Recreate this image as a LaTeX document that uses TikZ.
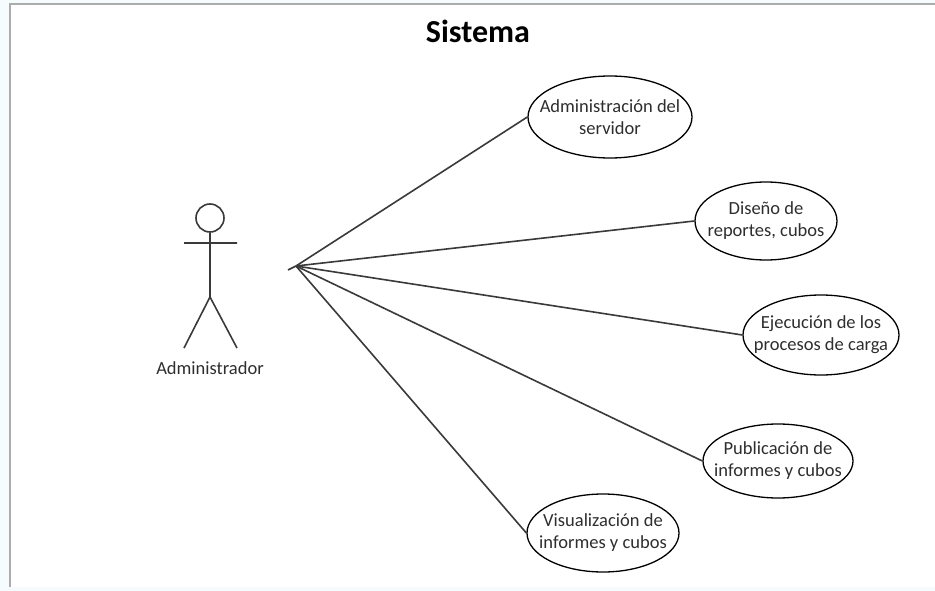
\documentclass[tikz,border=0pt]{standalone}
\usepackage{fontspec}
\setmainfont{Carlito}
\usetikzlibrary{shapes.geometric}
\definecolor{ink}{HTML}{3A3A3A}
\tikzset{
  usecase/.style={draw=black,line width=1.3pt,ellipse,inner sep=0pt,minimum width=#1},
  casetext/.style={align=center,font=\fontsize{18.5}{22}\selectfont,text=ink!80!black,inner sep=0pt},
  wire/.style={draw=ink,line width=1.6pt},
  limb/.style={draw=ink,line width=1.6pt}
}
\begin{document}
\begin{tikzpicture}[x=1pt,y=-1pt]
\useasboundingbox (0,0) rectangle (935,591);
\fill[white!94!cyan!60!white] (0,0) rectangle (935,591);
\fill[white] (10,4) rectangle (935,587);
\draw[line width=1.5pt,gray!65] (10,587) -- (10,4) -- (935,4);
\node[font=\fontsize{32}{36}\selectfont\bfseries] (title) at (478,31) {Sistema};
\node[usecase=164pt,minimum height=82pt] (a) at (610,117) {};
\node[casetext] (at) at (a) {Administración del\\servidor};
\node[usecase=142pt,minimum height=78pt] (b) at (766,221) {};
\node[casetext] (bt) at (b) {Diseño de\\reportes, cubos};
\node[usecase=156pt,minimum height=80pt] (c) at (821,335) {};
\node[casetext] (ct) at (c) {Ejecución de los\\procesos de carga};
\node[usecase=150pt,minimum height=74pt] (d) at (778,461) {};
\node[casetext] (dt) at (d) {Publicación de\\informes y cubos};
\node[usecase=152pt,minimum height=78pt] (e) at (603,533) {};
\node[casetext] (et) at (e) {Visualización de\\informes y cubos};
\node[draw=ink,line width=1.6pt,circle,minimum size=28pt,inner sep=0pt] (head) at (210,218) {};
\coordinate (hip) at (210,297);
\coordinate (armL) at (184,243);
\coordinate (armR) at (237,243);
\coordinate (footL) at (184,348);
\coordinate (footR) at (237,348);
\draw[limb] (head.south) -- (hip) (armL) -- (armR) (footL) -- (hip) -- (footR);
\node[casetext] (actor) at (210,368) {Administrador};
\coordinate (hub) at (296,266);
\coordinate (stub) at (288,270);
\draw[wire] (stub) -- (hub);
\draw[wire] (hub) -- (a.west);
\draw[wire] (hub) -- (b.west);
\draw[wire] (hub) -- (c.west);
\draw[wire] (hub) -- (d.west);
\draw[wire] (hub) -- (e.west);
\end{tikzpicture}
\end{document}
